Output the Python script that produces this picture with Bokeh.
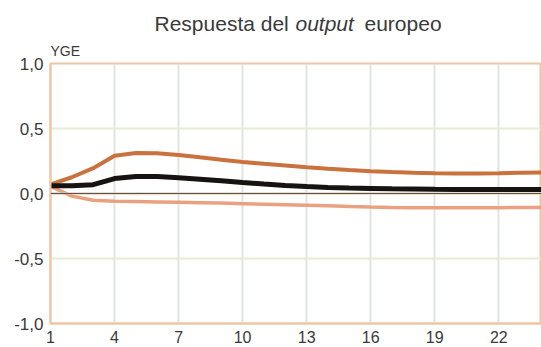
from bokeh.plotting import figure
from bokeh.layouts import column
from bokeh.models import FixedTicker, Span, Label, Range1d
from bokeh.embed import file_html
from bokeh.resources import INLINE

# Impulse response of European output (point estimate and confidence bands)
periods = list(range(1, 25))
upper_band = [0.07, 0.125, 0.195, 0.29, 0.312, 0.31, 0.297, 0.278, 0.26, 0.243,
              0.228, 0.215, 0.202, 0.19, 0.18, 0.172, 0.165, 0.16, 0.156, 0.154,
              0.154, 0.156, 0.159, 0.162]
response = [0.06, 0.06, 0.068, 0.115, 0.13, 0.13, 0.122, 0.11, 0.098, 0.085,
            0.073, 0.062, 0.054, 0.047, 0.042, 0.039, 0.036, 0.034, 0.032, 0.031,
            0.03, 0.03, 0.03, 0.03]
lower_band = [0.055, -0.02, -0.052, -0.06, -0.062, -0.065, -0.068, -0.071, -0.074, -0.078,
              -0.082, -0.086, -0.09, -0.095, -0.1, -0.104, -0.107, -0.109, -0.11, -0.11,
              -0.11, -0.109, -0.108, -0.107]

x_ticks = [1, 4, 7, 10, 13, 16, 19, 22]
y_ticks = [-1.0, -0.5, 0.0, 0.5, 1.0]
y_tick_labels = {-1.0: "-1,0", -0.5: "-0,5", 0.0: "0,0", 0.5: "0,5", 1.0: "1,0"}

title_words = ["Respuesta del", "output", "europeo"]
title_styles = ["normal", "italic", "normal"]
y_name = "YGE"

FONT = "Liberation Sans"
TEXT = "#3a3a3a"
PEACH = "#efc5a4"
W = 541
LEFT = 50
HEAD_H = 36

# --- heading strip: title with an italic word (its frame lines up with the chart frame) ---
head = figure(width=W, height=HEAD_H, output_backend="svg", toolbar_location=None,
              x_range=Range1d(LEFT, W), y_range=Range1d(0, HEAD_H), title=None,
              x_axis_type=None, y_axis_type=None, min_border=0, min_border_left=LEFT)
head.outline_line_color = None
head.grid.visible = False
head.background_fill_color = "white"
head.border_fill_color = "white"

word_x = [154, 295, 364]
for txt, style, wx in zip(title_words, title_styles, word_x):
    head.add_layout(Label(x=wx, y=13, text=txt, text_align="left",
                          text_baseline="alphabetic", text_font=FONT, text_font_size="21px",
                          text_font_style=style, text_color=TEXT))

# --- chart ---
p = figure(width=W, height=347 - HEAD_H, output_backend="svg", toolbar_location=None,
           x_range=Range1d(1, 24), y_range=Range1d(-1.0, 1.0),
           min_border_left=LEFT, min_border_right=0, min_border_top=26, min_border_bottom=24)
p.background_fill_color = "white"
p.border_fill_color = "white"
p.outline_line_color = PEACH
p.outline_line_width = 2

# variable name above the frame, flush with its left edge
p.title.text = y_name
p.title.align = "left"
p.title.text_font = FONT
p.title.text_font_size = "14px"
p.title.text_font_style = "normal"
p.title.text_color = TEXT
p.title.standoff = 9

p.xaxis.ticker = FixedTicker(ticks=x_ticks)
p.yaxis.ticker = FixedTicker(ticks=y_ticks)
p.yaxis.major_label_overrides = y_tick_labels
for ax in (p.xaxis, p.yaxis):
    ax.axis_line_color = PEACH
    ax.axis_line_width = 2
    ax.major_tick_out = 0
    ax.major_tick_in = 0
    ax.minor_tick_line_color = None
    ax.major_label_text_font = FONT
    ax.major_label_text_color = TEXT
p.yaxis.major_label_text_font_size = "17px"
p.yaxis.major_label_standoff = 7
p.xaxis.major_label_text_font_size = "16px"
p.xaxis.major_label_standoff = 7

p.xgrid.grid_line_color = "#dfe5df"
p.xgrid.grid_line_width = 2
p.ygrid.grid_line_color = "#e5ecd0"
p.ygrid.grid_line_width = 2

p.add_layout(Span(location=0, dimension="width", line_color=PEACH, line_width=2))
p.add_layout(Span(location=0, dimension="width", line_color="#555555", line_width=1))

p.line(periods, lower_band, line_color="#e9a17f", line_width=3.5)
p.line(periods, upper_band, line_color="#c9723e", line_width=4)
p.line(periods, response, line_color="#171311", line_width=5)

layout = column(head, p, spacing=0)
open("out.html", "w").write(file_html(layout, INLINE))
